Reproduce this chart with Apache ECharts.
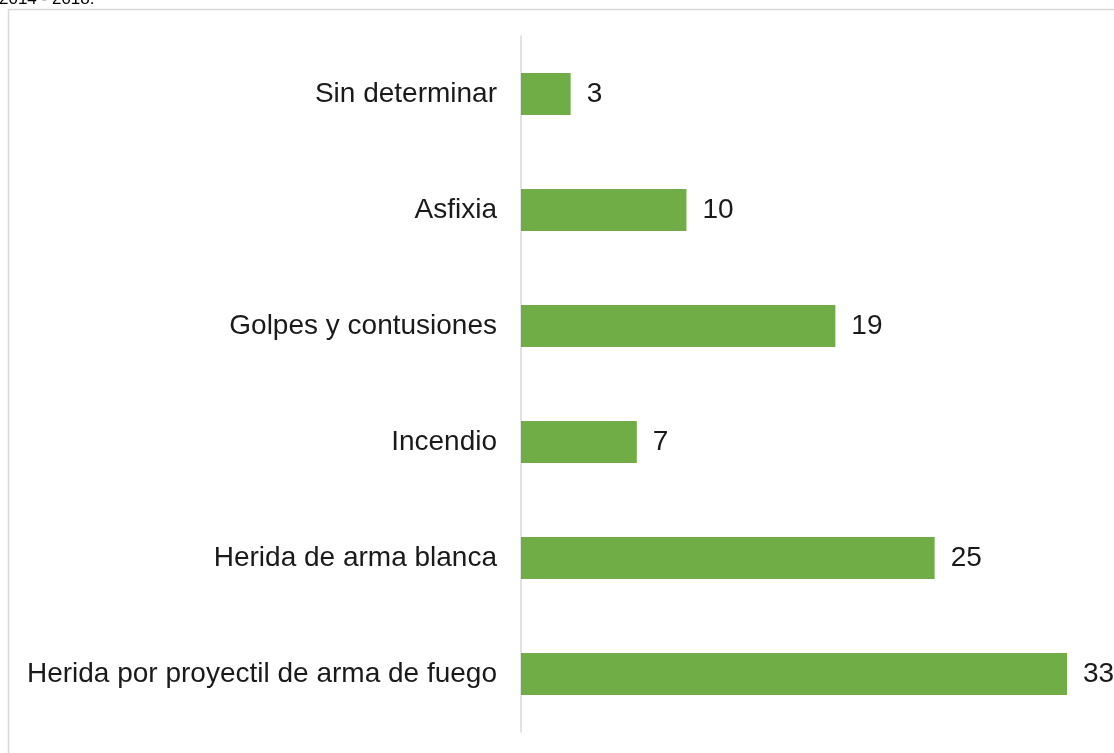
<!DOCTYPE html>
<html>
<head>
<meta charset="utf-8">
<script src="https://cdn.jsdelivr.net/npm/echarts@6/dist/echarts.min.js"></script>
<style>
  html, body { margin: 0; padding: 0; background: #fff; }
  #chart { width: 1114px; height: 753px; }
</style>
</head>
<body>
<div id="chart"></div>
<script>
// categories, bottom to top as drawn by a category y axis
const causas = [
  'Herida por proyectil de arma de fuego',
  'Herida de arma blanca',
  'Incendio',
  'Golpes y contusiones',
  'Asfixia',
  'Sin determinar'
]
const casos = [33, 25, 7, 19, 10, 3]

const chart = echarts.init(document.getElementById('chart'))
const option = {
  animation: false,
  backgroundColor: '#fff',
  textStyle: { fontFamily: 'Liberation Sans, Arial, sans-serif' },
  title: {
    text: '2014 - 2018.',
    left: -1,
    top: -9,
    padding: 0,
    textStyle: { fontSize: 17, fontWeight: 'normal', color: '#000', fontFamily: 'Liberation Sans, Arial, sans-serif' }
  },
  graphic: [
    {
      type: 'rect',
      shape: { x: 8.5, y: 9.5, width: 1200, height: 800 },
      style: { fill: 'none', stroke: '#d9d9d9', lineWidth: 1.5 },
      z: -1
    }
  ],
  grid: { left: 521, top: 36, width: 546, height: 696, containLabel: false },
  xAxis: {
    type: 'value',
    min: 0,
    max: 33,
    show: false
  },
  yAxis: {
    type: 'category',
    data: causas,
    axisLine: { show: true, lineStyle: { color: '#d9d9d9', width: 1.5 } },
    axisTick: { show: false },
    axisLabel: { color: '#1a1a1a', fontSize: 28, margin: 24, padding: [3, 0, 0, 0], fontFamily: 'Liberation Sans, Arial, sans-serif' },
    splitLine: { show: false }
  },
  series: [
    {
      type: 'bar',
      data: casos,
      barWidth: '36%',
      itemStyle: { color: '#70ad47' },
      label: {
        show: true,
        position: 'right',
        distance: 16,
        padding: [3, 0, 0, 0],
        color: '#1a1a1a',
        fontSize: 28,
        fontFamily: 'Liberation Sans, Arial, sans-serif'
      }
    }
  ]
}
chart.setOption(option)
</script>
</body>
</html>
